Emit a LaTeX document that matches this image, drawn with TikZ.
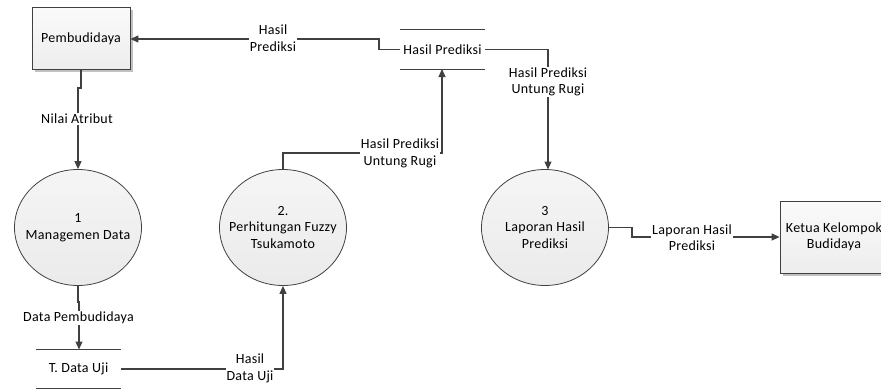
\documentclass[tikz,border=0pt]{standalone}
\usepackage{fontspec}
\setmainfont{Carlito}[LetterSpace=2]
\usetikzlibrary{arrows.meta,shapes.geometric,shadows}
\definecolor{linegray}{HTML}{404040}
\begin{document}
\begin{tikzpicture}[x=1pt,y=-1pt,
  font=\fontsize{14}{16.5}\selectfont,
  flow/.style={draw=linegray,line width=1.1pt,-{Triangle[length=8pt,width=7pt]}},
  plain/.style={draw=linegray,line width=1.1pt},
  lbl/.style={fill=white,inner sep=1pt,align=center},
  entity/.style={rectangle,draw=linegray,line width=0.8pt,top color=gray!4,bottom color=gray!14,
    drop shadow={shadow xshift=2.5pt,shadow yshift=-2.5pt,fill=gray!60,opacity=0.8},align=center},
  proc/.style={ellipse,draw=linegray,line width=0.8pt,top color=gray!8,bottom color=gray!16,
    minimum width=127pt,minimum height=116pt,inner sep=0pt},
  proctext/.style={align=center,inner sep=0pt},
  store/.style={rectangle,inner sep=0pt,minimum height=39pt}
]
\useasboundingbox (0,0) rectangle (881,389);
\clip (0,0) rectangle (881,389);

% external entities
\node[entity,minimum width=98pt,minimum height=62pt] (pem) at (81,38.5) {Pembudidaya};
\node[entity,minimum width=108pt,minimum height=72pt] (ketua) at (834,237) {Ketua Kelompok\\Budidaya};

% processes (fixed-size ellipses, captions set on top)
\node[proc] (p1) at (78,227.5) {};
\node[proctext] (p1t) at (p1.center) {1\\Managemen Data};
\node[proc] (p2) at (283,227.5) {};
\node[proctext] (p2t) at (p2.center) {2.\\Perhitungan Fuzzy\\Tsukamoto};
\node[proc] (p3) at (545,227.5) {};
\node[proctext] (p3t) at (p3.center) {3\\Laporan Hasil\\Prediksi};

% data stores
\node[store,minimum width=85pt] (hp) at (442.5,49.5) {Hasil Prediksi};
\draw[plain,line width=0.8pt] (hp.north west) -- (hp.north east) (hp.south west) -- (hp.south east);
\node[store,minimum width=85pt,minimum height=38pt] (du) at (78.5,369) {T. Data Uji};
\draw[plain,line width=0.8pt] (du.north west) -- (du.north east) (du.south west) -- (du.south east);

% helper points for the routed flows
\coordinate (hpL) at (400,49.5);
\coordinate (hpR) at (485,49.5);

% flows
\draw[flow] (hpL) -- (379,49.5) -- (379,39) -- (pem.east |- 0,39);
\node[lbl] (l1) at (273,38) {Hasil\\Prediksi};

\draw[flow] (hpR) -- (548,49.5) -- (548,169.5);
\node[lbl] (l2) at (548,82) {Hasil Prediksi\\Untung Rugi};

\draw[flow] (p2.north) -- (283,153) -- (442,153) -- (442,69);
\node[lbl,inner sep=0.5pt] (l3) at (400,153.5) {Hasil Prediksi\\Untung Rugi};

\draw[flow] (81,69) -- (81,88) -- (78,88) -- (p1.north);
\node[lbl] (l4) at (77,119) {Nilai Atribut};

\draw[flow] (p1.south) -- (78,302) -- (79,302) -- (79,349.5);
\node[lbl] (l5) at (78.5,318) {Data Pembudidaya};

\draw[flow] (du.east) -- (283,369) -- (p2.south);
\node[lbl] (l6) at (250,368.5) {Hasil\\Data Uji};

\draw[flow] (p3.east) -- (632,227.5) -- (632,237) -- (ketua.west);
\node[lbl] (l7) at (692,237.5) {Laporan Hasil\\Prediksi};
\end{tikzpicture}
\end{document}
